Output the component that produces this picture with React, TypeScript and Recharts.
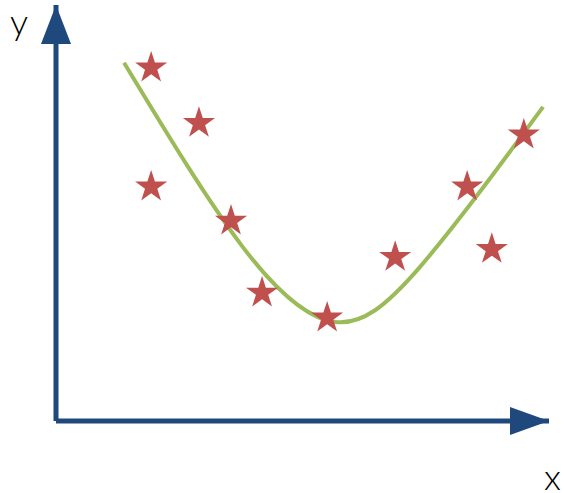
import {
  ComposedChart,
  Line,
  Scatter,
  XAxis,
  YAxis,
  ZAxis,
  ReferenceLine,
  ReferenceDot,
} from "recharts";

// scattered observations (stars)
const starX = [1.93, 2.9, 1.93, 3.55, 4.18, 5.5, 6.88, 8.34, 8.84, 9.49];
const starY = [8.49, 7.16, 5.63, 4.81, 3.08, 2.48, 3.94, 5.63, 4.13, 6.88];

// fitted curve
const curveX = [1.38, 3.79, 5.66, 7.38, 9.88];
const curveY = [8.61, 4.18, 2.38, 3.7, 7.55];

const AXIS = "#1F497D";
const STAR = "#C0504D";
const CURVE = "#9BBB59";

const stars = starX.map((x, i) => ({ x, y: starY[i] }));
const curve = curveX.map((x, i) => ({ x, y: curveY[i] }));

const ArrowUp = (p: any) => (
  <polygon
    points={`${p.cx},${p.cy} ${p.cx - 15},${p.cy + 39} ${p.cx + 15},${p.cy + 39}`}
    fill={AXIS}
  />
);

const ArrowRight = (p: any) => (
  <polygon
    points={`${p.cx},${p.cy} ${p.cx - 39},${p.cy - 14} ${p.cx - 39},${p.cy + 14}`}
    fill={AXIS}
  />
);

const labelStyle: React.CSSProperties = {
  position: "absolute",
  fontFamily: "Lato, 'Open Sans', 'Liberation Sans', sans-serif",
  fontWeight: 300,
  fontSize: 36,
  lineHeight: 1,
  color: "#000",
};

export default function App() {
  return (
    <div style={{ position: "absolute", left: 0, top: 0, width: 564, height: 493, background: "#fff" }}>
      <ComposedChart
        width={564}
        height={493}
        margin={{ top: 5, right: 15, bottom: 72, left: 56 }}
      >
        <XAxis type="number" dataKey="x" domain={[0, 10]} hide />
        <YAxis type="number" dataKey="y" domain={[0, 10]} hide />
        <ZAxis type="number" range={[320, 320]} />

        <ReferenceLine y={0} stroke={AXIS} strokeWidth={5} />
        <ReferenceLine x={0} stroke={AXIS} strokeWidth={5} />
        <ReferenceDot x={0} y={10} r={1} shape={ArrowUp} ifOverflow="visible" />
        <ReferenceDot x={10} y={0} r={1} shape={ArrowRight} ifOverflow="visible" />

        <Line
          data={curve}
          dataKey="y"
          type="natural"
          stroke={CURVE}
          strokeWidth={4}
          dot={false}
          isAnimationActive={false}
        />
        <Scatter
          data={stars}
          shape="star"
          fill={STAR}
          isAnimationActive={false}
        />
      </ComposedChart>
      <span style={{ ...labelStyle, left: 10, top: 3 }}>y</span>
      <span style={{ ...labelStyle, left: 544, top: 458 }}>x</span>
    </div>
  );
}
